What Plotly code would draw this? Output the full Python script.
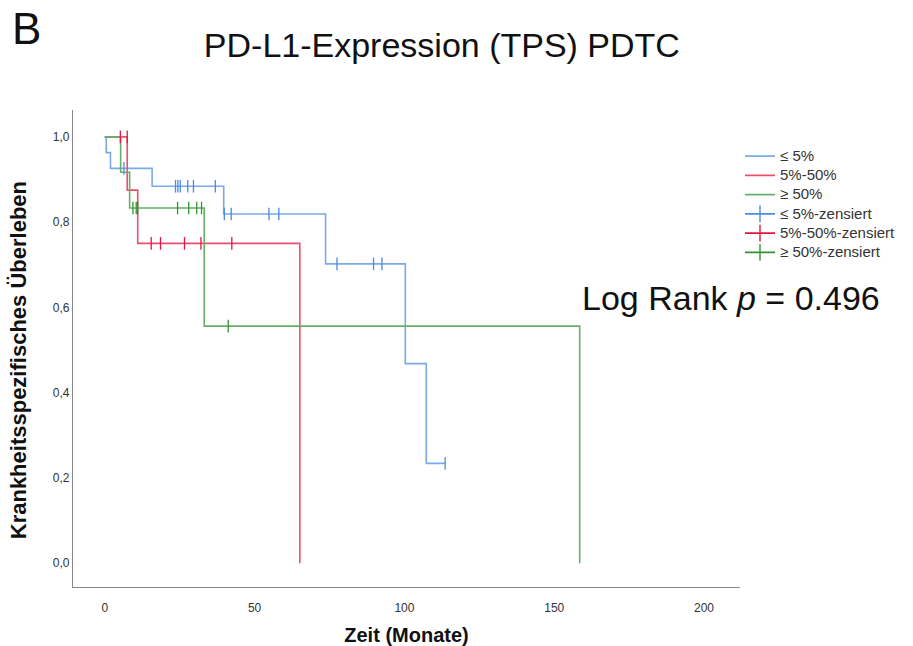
import plotly.graph_objects as go

# ---- data ----
groups = ["≤ 5%", "5%-50%", "≥ 50%"]

low_t = [0, 0.5, 1.9, 15.8, 39.7, 73.7, 100.3, 107.3, 113.6]
low_s = [1.0, 0.963, 0.926, 0.884, 0.819, 0.702, 0.468, 0.234, 0.234]
low_cens_t = [6.4, 23.6, 24.4, 25.2, 27.7, 29.6, 36.9, 39.9, 42.2, 54.8, 58.1, 77.5, 89.7, 92.5, 113.6]
low_cens_s = [0.926, 0.884, 0.884, 0.884, 0.884, 0.884, 0.884, 0.819, 0.819, 0.819, 0.819, 0.702, 0.702, 0.702, 0.234]

mid_t = [0, 7.5, 11.0, 65.1]
mid_s = [1.0, 0.875, 0.75, 0.0]
mid_cens_t = [5.2, 7.5, 15.5, 18.6, 26.6, 32.1, 42.4]
mid_cens_s = [1.0, 1.0, 0.75, 0.75, 0.75, 0.75, 0.75]

high_t = [0, 5.3, 8.3, 33.2, 158.5]
high_s = [1.0, 0.917, 0.833, 0.556, 0.0]
high_cens_t = [9.4, 10.5, 11.0, 24.3, 28.0, 30.7, 32.3, 41.2]
high_cens_s = [0.833, 0.833, 0.833, 0.833, 0.833, 0.833, 0.833, 0.556]

x_ticks = [0, 50, 100, 150, 200]
y_ticks = [0.0, 0.2, 0.4, 0.6, 0.8, 1.0]
y_tick_labels = ["0,0", "0,2", "0,4", "0,6", "0,8", "1,0"]

line_colors = ["#79aaea", "#e8506e", "#68ae68"]
cens_colors = ["#4a8ce2", "#e3163f", "#339433"]

curves = [(low_t, low_s, low_cens_t, low_cens_s),
          (mid_t, mid_s, mid_cens_t, mid_cens_s),
          (high_t, high_s, high_cens_t, high_cens_s)]


def lg(txt):
    return '<span style="font-size:15px">' + txt + "</span>"


fig = go.Figure()

# step curves
for name, (t, s, ct, cs), col in zip(groups, curves, line_colors):
    fig.add_trace(go.Scatter(x=t, y=s, mode="lines", line=dict(shape="hv", color=col, width=1.6),
                             name=lg(name), legendrank=1, showlegend=True, hoverinfo="skip"))

# censor marks
for name, (t, s, ct, cs), col in zip(groups, curves, cens_colors):
    fig.add_trace(go.Scatter(x=ct, y=cs, mode="markers",
                             marker=dict(symbol="line-ns", size=9, color=col,
                                         line=dict(color=col, width=1.3)),
                             name=name + "-zensiert", showlegend=False))

# legend entries for censored series (line with cross)
for name, col in zip(groups, cens_colors):
    fig.add_trace(go.Scatter(x=[None], y=[None], mode="lines+markers",
                             line=dict(color=col, width=1.6),
                             marker=dict(symbol="line-ns", size=12, color=col,
                                         line=dict(color=col, width=1.4)),
                             name=lg(name + "-zensiert"), legendrank=2))

fig.update_layout(
    width=913, height=646,
    margin=dict(l=73, r=170, t=110, b=59),
    paper_bgcolor="white", plot_bgcolor="white",
    font=dict(family="Liberation Sans, Arial, sans-serif", color="#222"),
    title=dict(text="PD-L1-Expression (TPS) PDTC", x=0.484, xref="container",
               y=1 - 45 / 646, yref="container", xanchor="center", yanchor="middle",
               font=dict(size=34, color="#111")),
    legend=dict(x=1.0, xanchor="left", y=0.934, yanchor="top",
                font=dict(size=12.5, color="#333"), bgcolor="rgba(0,0,0,0)",
                tracegroupgap=0, itemwidth=30),
    xaxis=dict(range=[-10.6, 212], tickvals=x_ticks, showgrid=False, zeroline=False,
               showline=True, linecolor="#888", linewidth=1.2, ticks="",
               ticklabelstandoff=9, automargin=False,
               tickfont=dict(size=12, color="#333"),
               title=dict(text="<b>Zeit (Monate)</b>", font=dict(size=20, color="#111"), standoff=16)),
    yaxis=dict(range=[-0.056, 1.063], tickvals=y_ticks, ticktext=y_tick_labels,
               showgrid=False, zeroline=False, automargin=False,
               showline=True, linecolor="#888", linewidth=1.2, ticks="",
               tickfont=dict(size=12, color="#333")),
    annotations=[
        dict(text="B", xref="paper", yref="paper", x=-0.07, y=1.17, xanchor="center", yanchor="middle",
             showarrow=False, font=dict(size=44, color="#111")),
        dict(text="Log Rank <i>p</i> = 0.496", xref="paper", yref="paper", x=0.9866, y=0.606,
             xanchor="center", yanchor="middle", showarrow=False, font=dict(size=34, color="#111")),
        dict(text="<b>Krankheitsspezifisches Überleben</b>", xref="paper", yref="paper",
             x=(18 - 73) / 670, y=(587 - 360) / 477, xanchor="center", yanchor="middle",
             textangle=-90, showarrow=False, font=dict(size=22, color="#111")),
    ],
)

fig.write_html("out.html")
